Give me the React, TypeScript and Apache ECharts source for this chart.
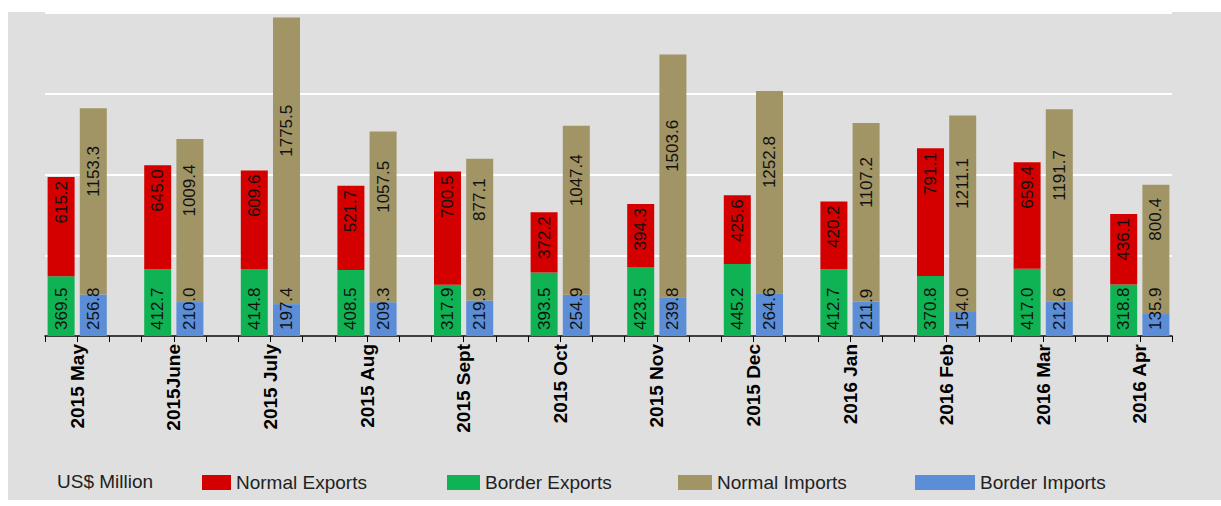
import React, { useEffect, useRef } from "react";
import * as echarts from "echarts";

const categories = [
  "2015 May", "2015June", "2015 July", "2015 Aug", "2015 Sept", "2015 Oct",
  "2015 Nov", "2015 Dec", "2016 Jan", "2016 Feb", "2016 Mar", "2016 Apr",
];
const normalExports = [615.2, 645.0, 609.6, 521.7, 700.5, 372.2, 394.3, 425.6, 420.2, 791.1, 659.4, 436.1];
const borderExports = [369.5, 412.7, 414.8, 408.5, 317.9, 393.5, 423.5, 445.2, 412.7, 370.8, 417.0, 318.8];
const normalImports = [1153.3, 1009.4, 1775.5, 1057.5, 877.1, 1047.4, 1503.6, 1252.8, 1107.2, 1211.1, 1191.7, 800.4];
const borderImports = [256.8, 210.0, 197.4, 209.3, 219.9, 254.9, 239.8, 264.6, 211.9, 154.0, 212.6, 135.9];
const unitLabel = "US$ Million";

// Each month takes 3 slots: exports bar, imports bar, gap.
const SLOTS = categories.length * 3 - 1;
const slotNames = Array.from({ length: SLOTS }, (_, i) => String(i));
const tickNames = Array.from({ length: SLOTS + 1 }, (_, i) =>
  i % 3 === 1 ? categories[(i - 1) / 3] : ""
);
function place(values: number[], offset: number): (number | string)[] {
  const out: (number | string)[] = Array.from({ length: SLOTS }, () => "-");
  values.forEach((v, i) => {
    out[i * 3 + offset] = v;
  });
  return out;
}

const FONT = "Arial, 'Liberation Sans', sans-serif";
const COLORS = {
  normalExports: "#d40000",
  borderExports: "#0fb354",
  normalImports: "#a19465",
  borderImports: "#5b8ed6",
};

export default function App() {
  const ref = useRef<HTMLDivElement>(null);
  useEffect(() => {
    if (!ref.current) return;
    const chart = echarts.init(ref.current, null, { renderer: "svg" });
    const baseLabel = {
      show: true,
      rotate: 90,
      color: "#111",
      fontSize: 17,
      fontFamily: FONT,
      formatter: (p: any) => Number(p.value).toFixed(1),
    };
    const bottomLabel = { ...baseLabel, position: "insideBottom", align: "left", verticalAlign: "middle", distance: 6 };
    const topLabel = { ...baseLabel, position: "insideTop", align: "right", verticalAlign: "middle", distance: 4 };
    const midLabel = { ...baseLabel, position: "inside", offset: [30, 0] };
    const mk = (name: string, data: (number | string)[], color: string, label: any) => ({
      name,
      type: "bar",
      stack: "all",
      xAxisIndex: 0,
      barWidth: 27,
      data,
      itemStyle: { color },
      label,
    });
    const legendBase = {
      top: 473,
      padding: 0,
      icon: "rect",
      itemHeight: 15,
      selectedMode: false,
      textStyle: { fontSize: 19, fontFamily: FONT, color: "#222" },
    };
    chart.setOption({
      animation: false,
      grid: { left: 45, right: 49, top: 13, bottom: 170 },
      xAxis: [
        {
          type: "category",
          data: slotNames,
          show: false,
          position: "bottom",
        },
        {
          type: "category",
          data: tickNames,
          boundaryGap: false,
          position: "bottom",
          axisLine: { show: true, lineStyle: { color: "#000", width: 1.5 } },
          axisTick: { show: true, interval: 0, length: 6, lineStyle: { color: "#000" } },
          axisLabel: {
            interval: 0,
            rotate: 90,
            margin: 8,
            fontSize: 19,
            fontWeight: "bold",
            fontFamily: FONT,
            color: "#000",
          },
          splitLine: { show: false },
        },
      ],
      yAxis: {
        type: "value",
        min: 0,
        max: 2000,
        interval: 500,
        axisLabel: { show: false },
        axisLine: { show: false },
        axisTick: { show: false },
        splitLine: { lineStyle: { color: "#ffffff", width: 2 } },
      },
      legend: [
        { ...legendBase, data: ["Normal Exports"], left: 202, itemWidth: 29 },
        { ...legendBase, data: ["Border Exports"], left: 447, itemWidth: 33 },
        { ...legendBase, data: ["Normal Imports"], left: 678, itemWidth: 34 },
        { ...legendBase, data: ["Border Imports"], left: 915, itemWidth: 60 },
      ],
      graphic: [
        {
          type: "text",
          left: 57,
          top: 472,
          style: { text: unitLabel, fontSize: 19, fontFamily: FONT, fill: "#222" },
        },
      ],
      series: [
        mk("Border Exports", place(borderExports, 0), COLORS.borderExports, bottomLabel),
        mk("Normal Exports", place(normalExports, 0), COLORS.normalExports, topLabel),
        mk("Border Imports", place(borderImports, 1), COLORS.borderImports, bottomLabel),
        mk("Normal Imports", place(normalImports, 1), COLORS.normalImports, midLabel),
      ],
    });
    return () => chart.dispose();
  }, []);
  return (
    <div style={{ position: "absolute", left: 0, top: 0, width: 1221, height: 506, background: "#ffffff" }}>
      <div style={{ position: "absolute", left: 8, top: 12, width: 1213, height: 488, background: "#dfdfdf" }} />
      <div ref={ref} style={{ position: "absolute", left: 0, top: 0, width: 1221, height: 506 }} />
    </div>
  );
}
